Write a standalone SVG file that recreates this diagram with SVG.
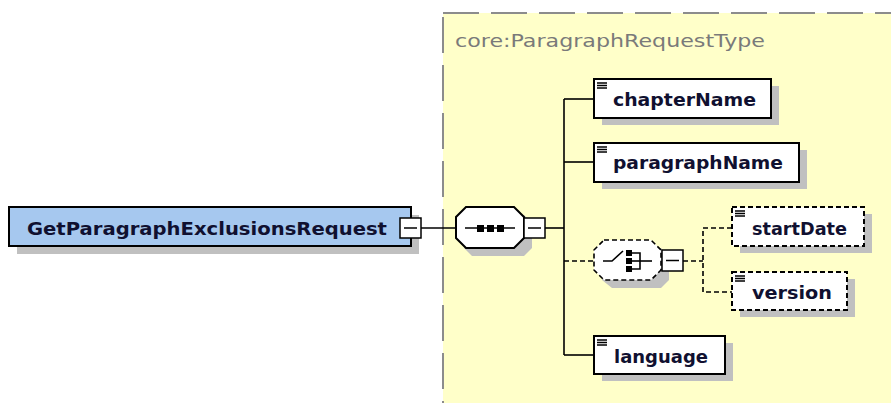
<svg xmlns="http://www.w3.org/2000/svg" width="891" height="403" viewBox="0 0 891 403">
<style>
.shadow{fill:#c0c0c0;stroke:none}
.el{fill:#ffffff;stroke:#000;stroke-width:2}
.opt{fill:#ffffff;stroke:#000;stroke-width:2;stroke-dasharray:5 3}
.lbl{font-family:"DejaVu Sans",Verdana,sans-serif;font-weight:bold;font-size:18.5px;fill:#101030}
.ln{stroke:#000;stroke-width:1.6;fill:none}
.dl{stroke:#000;stroke-width:1.6;fill:none;stroke-dasharray:5 3}
.ico{stroke:#000;stroke-width:1.5}
.box{fill:#fff;stroke:#000;stroke-width:1.5}
</style>
<rect width="891" height="403" fill="#ffffff"/>
<g id="container">
<rect x="443" y="13" width="460" height="400" fill="#ffffc9" stroke="#8c8c8c" stroke-width="2" stroke-dasharray="36 12"/>
<text x="455" y="47" font-family="DejaVu Sans,Verdana,sans-serif" font-size="17px" fill="#7a7a7a" textLength="310" lengthAdjust="spacingAndGlyphs">core:ParagraphRequestType</text>
</g>
<g id="connectors">
<line class="ln" x1="421" y1="228" x2="456" y2="228"/>
<line class="ln" x1="545" y1="228" x2="564" y2="228"/>
<line class="ln" x1="564" y1="99" x2="564" y2="355"/>
<line class="ln" x1="564" y1="99" x2="594" y2="99"/>
<line class="ln" x1="564" y1="162" x2="594" y2="162"/>
<line class="ln" x1="564" y1="355" x2="594" y2="355"/>
<line class="dl" x1="564" y1="261" x2="594" y2="261"/>
<line class="dl" x1="683" y1="261" x2="703" y2="261"/>
<polyline class="dl" points="732,228 703,228 703,292 732,292"/>
</g>
<g id="root">
<rect class="shadow" x="17" y="215" width="402" height="39"/>
<rect x="9" y="207" width="402" height="39" fill="#a6c8ef" stroke="#000" stroke-width="2"/>
<text class="lbl" x="27" y="235" textLength="360" lengthAdjust="spacingAndGlyphs">GetParagraphExclusionsRequest</text>
<rect class="box" x="400" y="218" width="21" height="20"/>
<line class="ico" x1="404" y1="228" x2="417" y2="228"/>
</g>
<g id="sequence">
<polygon class="shadow" points="472,215 524,215 532,223 532,248 524,256 472,256 464,248 464,223"/>
<polygon fill="#fff" stroke="#000" stroke-width="2" points="466,207 514,207 524,217 524,238 514,248 466,248 456,238 456,217"/>
<line class="ln" x1="465" y1="228" x2="515" y2="228"/>
<rect x="477" y="225" width="7" height="7" fill="#000"/>
<rect x="487" y="225" width="7" height="7" fill="#000"/>
<rect x="497" y="225" width="7" height="7" fill="#000"/>
<rect class="box" x="524" y="218" width="21" height="20"/>
<line class="ico" x1="528" y1="228" x2="541" y2="228"/>
</g>
<g id="choice">
<polygon class="shadow" points="612,248 661,248 669,256 669,280 661,288 612,288 602,280 602,256"/>
<polygon fill="#fff" stroke="#000" stroke-width="1.6" stroke-dasharray="5 3" points="604,240 651,240 661,250 661,270 651,280 604,280 594,270 594,250"/>
<polyline class="ln" points="603,261 612,261 623,251"/>
<rect x="626" y="250" width="6" height="6" fill="#000"/>
<rect x="626" y="258" width="6" height="6" fill="#000"/>
<rect x="626" y="266" width="6" height="6" fill="#000"/>
<polyline class="ln" points="632,253 640,253 640,269 632,269"/>
<line class="ln" x1="632" y1="261" x2="652" y2="261"/>
<rect class="box" x="662" y="250" width="21" height="21"/>
<line class="ico" x1="666" y1="260.5" x2="679" y2="260.5"/>
</g>
<g id="chapterName">
<rect class="shadow" x="602" y="86" width="177" height="39"/>
<rect class="el" x="594" y="79" width="177" height="39"/>
<path class="ico" d="M597 83h10M597 85.5h10M597 88h10"/>
<text class="lbl" x="613" y="106" textLength="143" lengthAdjust="spacingAndGlyphs">chapterName</text>
</g>
<g id="paragraphName">
<rect class="shadow" x="602" y="150" width="205" height="39"/>
<rect class="el" x="594" y="143" width="205" height="39"/>
<path class="ico" d="M597 147h10M597 149.5h10M597 152h10"/>
<text class="lbl" x="613" y="169" textLength="170" lengthAdjust="spacingAndGlyphs">paragraphName</text>
</g>
<g id="startDate">
<rect class="shadow" x="740" y="214" width="132" height="39"/>
<rect class="opt" x="732" y="207" width="132" height="39"/>
<path class="ico" d="M735 211h10M735 213.5h10M735 216h10"/>
<text class="lbl" x="752" y="235" textLength="95" lengthAdjust="spacingAndGlyphs">startDate</text>
</g>
<g id="version">
<rect class="shadow" x="740" y="279" width="115" height="38"/>
<rect class="opt" x="732" y="272" width="115" height="38"/>
<path class="ico" d="M735 276h10M735 278.5h10M735 281h10"/>
<text class="lbl" x="752" y="299" textLength="80" lengthAdjust="spacingAndGlyphs">version</text>
</g>
<g id="language">
<rect class="shadow" x="602" y="343" width="131" height="38"/>
<rect class="el" x="594" y="336" width="131" height="38"/>
<path class="ico" d="M597 340h10M597 342.5h10M597 345h10"/>
<text class="lbl" x="614" y="363" textLength="94" lengthAdjust="spacingAndGlyphs">language</text>
</g>
</svg>
